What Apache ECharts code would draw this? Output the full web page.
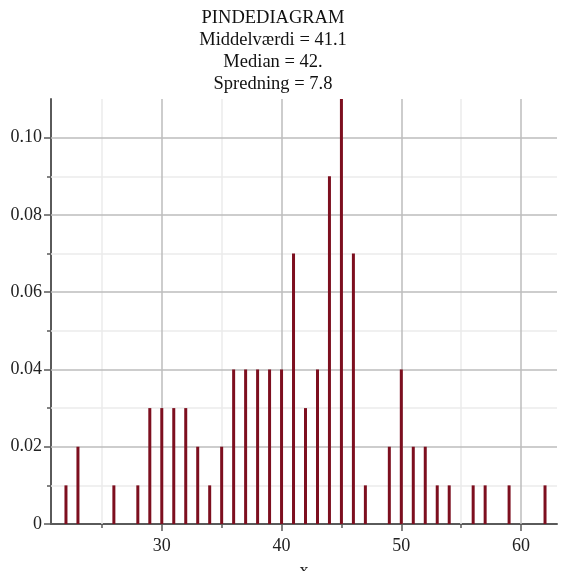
<!DOCTYPE html>
<html>
<head>
<meta charset="utf-8">
<script src="https://cdn.jsdelivr.net/npm/echarts@6/dist/echarts.min.js"></script>
<style>
html,body{margin:0;padding:0;background:#fff;}
#c{width:561px;height:571px;}
</style>
</head>
<body>
<div id="c"></div>
<script>
// Data
const xValues = [22, 23, 26, 28, 29, 30, 31, 32, 33, 34, 35, 36, 37, 38, 39, 40, 41, 42, 43, 44, 45, 46, 47, 49, 50, 51, 52, 53, 54, 56, 57, 59, 62];
const probs   = [0.01,0.02,0.01,0.01,0.03,0.03,0.03,0.03,0.02,0.01,0.02,0.04,0.04,0.04,0.04,0.04,0.07,0.03,0.04,0.09,0.11,0.07,0.01,0.02,0.04,0.02,0.02,0.01,0.01,0.01,0.01,0.01,0.01];
const xMajorTicks = [30, 40, 50, 60];
const xMinorTicks = [25, 35, 45, 55];
const yMajorTicks = [0, 0.02, 0.04, 0.06, 0.08, 0.10];
const yMinorTicks = [0.01, 0.03, 0.05, 0.07, 0.09];
const titleLines = ['PINDEDIAGRAM', 'Middelværdi = 41.1', 'Median = 42.', 'Spredning = 7.8'];
const xName = 'x';

const serif = '"Liberation Serif", "DejaVu Serif", serif';
const majorGrid = '#bdbdbd';
const minorGrid = '#ebebeb';
const axisColor = '#5a5a5a';
const barColor = '#7d0f1f';

const barData = xValues.map((x, i) => [x, probs[i]]);

const gridLines = [];
xMinorTicks.forEach(v => gridLines.push({xAxis: v, lineStyle: {color: minorGrid, width: 1.5, type: 'solid'}}));
yMinorTicks.forEach(v => gridLines.push({yAxis: v, lineStyle: {color: minorGrid, width: 1.5, type: 'solid'}}));
xMajorTicks.forEach(v => gridLines.push({xAxis: v, lineStyle: {color: majorGrid, width: 1.5, type: 'solid'}}));
yMajorTicks.filter(v => v > 0).forEach(v => gridLines.push({yAxis: v, lineStyle: {color: majorGrid, width: 1.5, type: 'solid'}}));

const xMin = 20.75, xMax = 63.0, yMin = 0, yMax = 0.11;

const chart = echarts.init(document.getElementById('c'), null, {renderer: 'canvas'});
chart.setOption({
  animation: false,
  backgroundColor: '#ffffff',
  title: {
    text: titleLines.join('\n'),
    left: 268,
    top: 2,
    textAlign: 'center',
    textStyle: {fontFamily: serif, fontSize: 18.5, fontWeight: 'normal', lineHeight: 22, color: '#111'}
  },
  grid: {left: 51, right: 4, top: 99, bottom: 47, containLabel: false, outerBoundsMode: 'none'},
  xAxis: [
    {
      type: 'value', min: xMin, max: xMax,
      name: xName, nameLocation: 'middle', nameGap: 38,
      nameTextStyle: {fontFamily: serif, fontSize: 18, color: '#222', verticalAlign: 'top'},
      axisLine: {show: true, onZero: false, lineStyle: {color: axisColor, width: 2}},
      axisTick: {show: true, customValues: xMajorTicks, length: 7, lineStyle: {color: axisColor, width: 1.5}},
      axisLabel: {show: true, customValues: xMajorTicks, margin: 13, fontFamily: serif, fontSize: 18, color: '#222'},
      splitLine: {show: false}
    },
    {
      type: 'value', min: xMin, max: xMax, position: 'bottom',
      axisLine: {show: false},
      axisTick: {show: true, customValues: xMinorTicks, length: 4, lineStyle: {color: axisColor, width: 1.5}},
      axisLabel: {show: false},
      splitLine: {show: false}
    }
  ],
  yAxis: [
    {
      type: 'value', min: yMin, max: yMax,
      axisLine: {show: true, onZero: false, lineStyle: {color: axisColor, width: 2}},
      axisTick: {show: true, customValues: yMajorTicks, length: 7, lineStyle: {color: axisColor, width: 1.5}},
      axisLabel: {show: true, customValues: yMajorTicks, margin: 9, fontFamily: serif, fontSize: 18, color: '#222',
        formatter: v => (v === 0 ? '0' : v.toFixed(2))},
      splitLine: {show: false}
    },
    {
      type: 'value', min: yMin, max: yMax, position: 'left',
      axisLine: {show: false},
      axisTick: {show: true, customValues: yMinorTicks, length: 4, lineStyle: {color: axisColor, width: 1.5}},
      axisLabel: {show: false},
      splitLine: {show: false}
    }
  ],
  series: [
    {
      type: 'line', xAxisIndex: 0, yAxisIndex: 0, data: [], silent: true,
      markLine: {silent: true, symbol: ['none', 'none'], z: 1, label: {show: false}, animation: false, data: gridLines}
    },
    {
      type: 'bar', xAxisIndex: 0, yAxisIndex: 0, data: barData, barWidth: 3, z: 3,
      itemStyle: {color: barColor}
    }
  ]
});
</script>
</body>
</html>
